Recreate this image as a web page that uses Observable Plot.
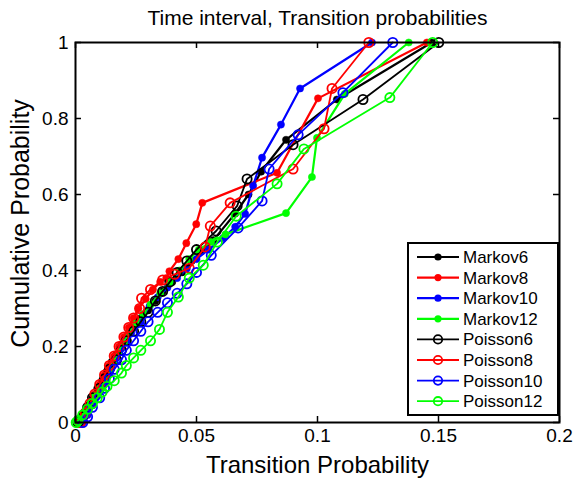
<!DOCTYPE html>
<html><head><meta charset="utf-8">
<script src="https://cdn.jsdelivr.net/npm/d3@7"></script>
<script src="https://cdn.jsdelivr.net/npm/@observablehq/plot@0.6"></script>
<style>body{margin:0;background:#fff}</style>
</head><body><div id="chart"></div>
<script>
const chartTitle = "Time interval, Transition probabilities";
const xLabel = "Transition Probability";
const yLabel = "Cumulative Probability";
const xTicks = [0, 0.05, 0.1, 0.15, 0.2];
const xTickLabels = ["0", "0.05", "0.1", "0.15", "0.2"];
const yTicks = [0, 0.2, 0.4, 0.6, 0.8, 1];
const yTickLabels = ["0", "0.2", "0.4", "0.6", "0.8", "1"];

const seriesNames = ["Markov6","Markov8","Markov10","Markov12","Poisson6","Poisson8","Poisson10","Poisson12"];
const seriesColors = ["#000000","#ff0000","#0000ff","#00ff00","#000000","#ff0000","#0000ff","#00ff00"];
const seriesFilled = [true,true,true,true,false,false,false,false];

const markov6X = [0.001,0.003,0.005,0.007,0.009,0.011,0.013,0.015,0.017,0.019,0.021,0.024,0.027,0.030,0.033,0.036,0.040,0.044,0.048,0.052,0.057,0.066,0.0715,0.0767,0.087,0.108,0.1472];
const markov6Y = [0.0,0.02,0.04,0.065,0.09,0.11,0.135,0.16,0.18,0.205,0.225,0.25,0.275,0.295,0.32,0.345,0.37,0.395,0.425,0.45,0.48,0.55,0.60,0.66,0.744,0.85,1];

const markov8X = [0.002,0.004,0.006,0.008,0.010,0.012,0.014,0.016,0.018,0.020,0.022,0.024,0.026,0.029,0.032,0.035,0.0375,0.0388,0.0425,0.0458,0.0499,0.0524,0.0833,0.1002,0.1452];
const markov8Y = [0.0,0.025,0.05,0.075,0.10,0.125,0.15,0.175,0.20,0.225,0.25,0.275,0.30,0.325,0.35,0.37,0.38,0.398,0.43,0.472,0.522,0.578,0.657,0.853,1];

const markov10X = [0.003,0.005,0.007,0.009,0.011,0.013,0.015,0.017,0.019,0.021,0.023,0.0265,0.0306,0.034,0.038,0.042,0.046,0.050,0.055,0.061,0.066,0.0701,0.0734,0.0771,0.0849,0.0928,0.1225];
const markov10Y = [0.0,0.02,0.045,0.07,0.095,0.12,0.145,0.17,0.195,0.215,0.235,0.261,0.306,0.33,0.355,0.38,0.405,0.43,0.455,0.485,0.515,0.549,0.623,0.697,0.784,0.879,1];

const markov12X = [0.0005,0.002,0.004,0.006,0.008,0.010,0.012,0.014,0.016,0.018,0.020,0.022,0.025,0.028,0.031,0.035,0.039,0.043,0.047,0.051,0.056,0.062,0.087,0.0977,0.0998,0.1113,0.1377];
const markov12Y = [0.0,0.01,0.03,0.05,0.07,0.09,0.11,0.135,0.16,0.185,0.21,0.235,0.26,0.285,0.31,0.34,0.37,0.40,0.43,0.455,0.475,0.495,0.551,0.646,0.749,0.865,1];

const poisson6X = [0.001,0.003,0.005,0.007,0.010,0.012,0.014,0.017,0.019,0.021,0.024,0.027,0.030,0.033,0.036,0.039,0.042,0.046,0.050,0.0581,0.0668,0.0709,0.0899,0.1188,0.1501];
const poisson6Y = [0.0,0.015,0.04,0.065,0.09,0.115,0.14,0.165,0.19,0.215,0.24,0.265,0.29,0.32,0.345,0.37,0.395,0.425,0.455,0.504,0.57,0.641,0.731,0.85,1];

const poisson8X = [0.002,0.004,0.006,0.008,0.010,0.012,0.014,0.016,0.018,0.020,0.022,0.024,0.0265,0.0273,0.031,0.036,0.041,0.047,0.0536,0.0557,0.0639,0.0899,0.1027,0.106,0.1212];
const poisson8Y = [0.0,0.025,0.05,0.075,0.10,0.125,0.15,0.175,0.20,0.225,0.25,0.275,0.30,0.327,0.35,0.375,0.39,0.406,0.462,0.517,0.578,0.667,0.773,0.879,1];

const poisson10X = [0.003,0.005,0.007,0.010,0.012,0.014,0.016,0.019,0.021,0.024,0.027,0.030,0.034,0.038,0.042,0.046,0.050,0.0561,0.0672,0.0771,0.080,0.092,0.1105,0.1311];
const poisson10Y = [0.0,0.015,0.04,0.065,0.09,0.115,0.14,0.165,0.19,0.215,0.24,0.265,0.29,0.315,0.34,0.365,0.395,0.44,0.512,0.583,0.667,0.757,0.868,1];

const poisson12X = [0.0003,0.001,0.003,0.005,0.007,0.009,0.011,0.013,0.016,0.019,0.021,0.024,0.027,0.031,0.0347,0.038,0.0425,0.047,0.0528,0.0586,0.0664,0.0833,0.0944,0.1299,0.1476];
const poisson12Y = [0.0,0.005,0.02,0.035,0.05,0.065,0.08,0.095,0.11,0.13,0.15,0.17,0.19,0.215,0.245,0.29,0.33,0.38,0.414,0.475,0.543,0.628,0.72,0.855,1];

const seriesX = [markov6X, markov8X, markov10X, markov12X, poisson6X, poisson8X, poisson10X, poisson12X];
const seriesY = [markov6Y, markov8Y, markov10Y, markov12Y, poisson6Y, poisson8Y, poisson10Y, poisson12Y];

const font = "'Liberation Sans', Arial, Helvetica, sans-serif";

const dataMarks = [];
seriesNames.forEach((name, k) => {
  const rows = seriesX[k].map((x, i) => ({series: name, x, y: seriesY[k][i]}));
  const color = seriesColors[k];
  dataMarks.push(Plot.line(rows, {x: "x", y: "y", stroke: color, strokeWidth: seriesFilled[k] ? 2.2 : 1.8}));
  if (seriesFilled[k]) {
    dataMarks.push(Plot.dot(rows, {x: "x", y: "y", r: 3.6, fill: color, stroke: color, strokeWidth: 0.5}));
  } else {
    dataMarks.push(Plot.dot(rows, {x: "x", y: "y", r: 4.6, fill: "none", stroke: color, strokeWidth: 1.8}));
  }
});

const W = 573, H = 481, ML = 75, MR = 14, MT = 42, MB = 59;
const frameW = W - ML - MR, frameH = H - MT - MB;
const tickLen = 6;

const svg = Plot.plot({
  width: W, height: H,
  marginLeft: ML, marginRight: MR, marginTop: MT, marginBottom: MB,
  style: {fontFamily: font, background: "#fff", color: "#000", overflow: "visible"},
  x: {domain: [0, 0.2]},
  y: {domain: [0, 1]},
  marks: [
    ...dataMarks,
    Plot.ruleX(xTicks, {x: d => d, insetTop: frameH - tickLen, stroke: "#000", strokeWidth: 1.5}),
    Plot.ruleX(xTicks, {x: d => d, insetBottom: frameH - tickLen, stroke: "#000", strokeWidth: 1.5}),
    Plot.ruleY(yTicks, {y: d => d, insetRight: frameW - tickLen, stroke: "#000", strokeWidth: 1.5}),
    Plot.ruleY(yTicks, {y: d => d, insetLeft: frameW - tickLen, stroke: "#000", strokeWidth: 1.5}),
    Plot.frame({stroke: "#000", strokeWidth: 2}),
    Plot.axisX({ticks: xTicks, tickFormat: d => xTickLabels[xTicks.indexOf(d)], tickSize: 0, tickPadding: 6, fontSize: 19, label: null}),
    Plot.axisY({ticks: yTicks, tickFormat: d => yTickLabels[yTicks.indexOf(d)], tickSize: 0, tickPadding: 7, fontSize: 19, label: null}),
    Plot.text([chartTitle], {frameAnchor: "top", dy: -24, fontSize: 21, fill: "#000", textAnchor: "middle", lineAnchor: "middle"}),
    Plot.text([xLabel], {frameAnchor: "bottom", dy: 43, fontSize: 24, fill: "#000", textAnchor: "middle", lineAnchor: "middle"}),
    Plot.text([yLabel], {frameAnchor: "left", dx: -55, dy: -9, rotate: -90, fontSize: 25, fill: "#000", textAnchor: "middle", lineAnchor: "middle"})
  ]
});

// legend (MATLAB-style box at the lower right of the axes)
const lg = d3.select(svg).append("g").attr("font-family", font).attr("font-size", 17).attr("text-anchor", "start");
const lx = 408, ly = 243, lw = 150, lh = 172, rowH = 20.6, row0 = 257;
lg.append("rect").attr("x", lx).attr("y", ly).attr("width", lw).attr("height", lh)
  .attr("fill", "#fff").attr("stroke", "#000").attr("stroke-width", 2);
seriesNames.forEach((name, k) => {
  const yy = row0 + k * rowH;
  const c = seriesColors[k];
  lg.append("line").attr("x1", lx + 9).attr("x2", lx + 51).attr("y1", yy).attr("y2", yy)
    .attr("stroke", c).attr("stroke-width", seriesFilled[k] ? 2.2 : 1.8);
  if (seriesFilled[k]) {
    lg.append("circle").attr("cx", lx + 30).attr("cy", yy).attr("r", 3.6).attr("fill", c);
  } else {
    lg.append("circle").attr("cx", lx + 30).attr("cy", yy).attr("r", 4.2).attr("fill", "none")
      .attr("stroke", c).attr("stroke-width", 1.8);
  }
  lg.append("text").attr("x", lx + 55).attr("y", yy).attr("dy", "0.35em").attr("fill", "#000")
    .attr("text-anchor", "start").text(name);
});

document.getElementById("chart").appendChild(svg);
</script>
</body></html>
